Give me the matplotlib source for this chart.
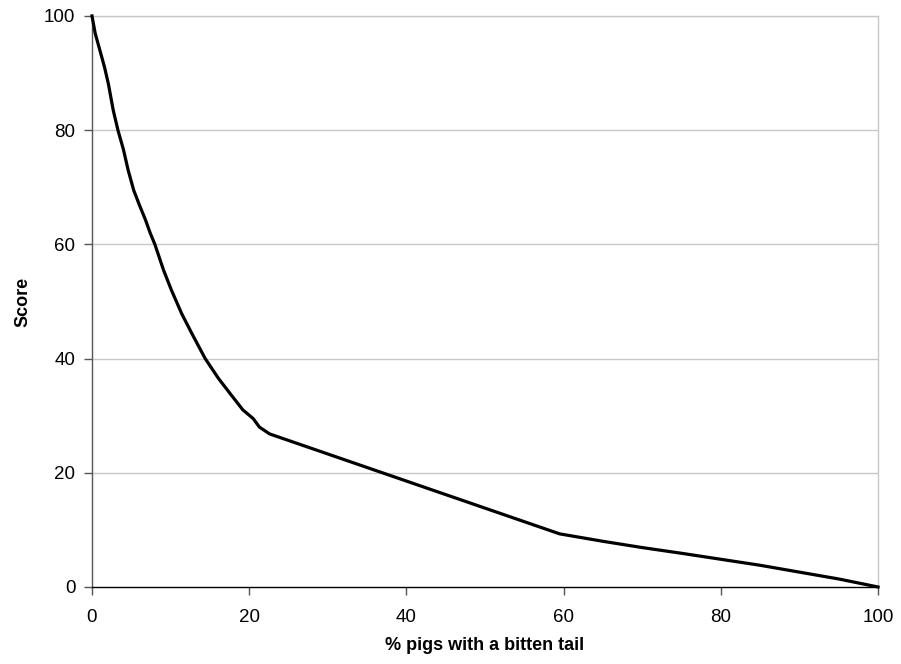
import matplotlib.pyplot as plt

# % pigs with a bitten tail vs score
pct_bitten = [0, 0.4, 1.0, 1.6, 2.1, 2.7, 3.3, 4.0, 4.6, 5.3, 6.0, 6.8, 7.4, 8.0,
              9.1, 10.1, 11.4, 12.7, 14.4, 16.1, 17.5, 19.2, 20.5, 21.3, 22.6,
              59.5, 65, 70, 75, 80, 85, 90, 95, 100]
score = [100, 97, 94, 91, 88.0, 83.5, 80, 76.6, 73, 69.5, 67, 64.3, 62, 60,
         55.5, 52, 47.9, 44.4, 40, 36.5, 34, 31, 29.5, 28, 26.8,
         9.3, 8.0, 6.9, 5.9, 4.85, 3.8, 2.6, 1.4, 0]

x_ticks = [0, 20, 40, 60, 80, 100]
y_ticks = [0, 20, 40, 60, 80, 100]

plt.rcParams['font.family'] = ['Liberation Sans', 'DejaVu Sans']

fig = plt.figure(figsize=(9.01, 6.64), dpi=100)
ax = fig.add_axes([0.1021, 0.116, 0.8724, 0.860])

for v in y_ticks[1:]:
    ax.axhline(v, color='#c8c8c8', linewidth=1.0, zorder=1)

ax.plot(pct_bitten, score, color='black', linewidth=2.3, zorder=3, clip_on=False)

ax.set_xlim(0, 100)
ax.set_ylim(0, 100)
ax.set_xticks(x_ticks)
ax.set_yticks(y_ticks)
ax.tick_params(axis='both', direction='out', length=6, width=1, color='#555555',
               labelsize=13.5)
ax.tick_params(axis='x', pad=10)
ax.tick_params(axis='y', pad=6)

ax.spines['left'].set_color('#555555')
ax.spines['bottom'].set_color('black')
ax.spines['top'].set_color('#c8c8c8')
ax.spines['right'].set_color('#c8c8c8')
for s in ax.spines.values():
    s.set_linewidth(1.0)

ax.set_xlabel('% pigs with a bitten tail', fontsize=13, fontweight='bold', labelpad=8)
ax.set_ylabel('Score', fontsize=13, fontweight='bold', labelpad=9)

fig.savefig('out.png', dpi=100)
